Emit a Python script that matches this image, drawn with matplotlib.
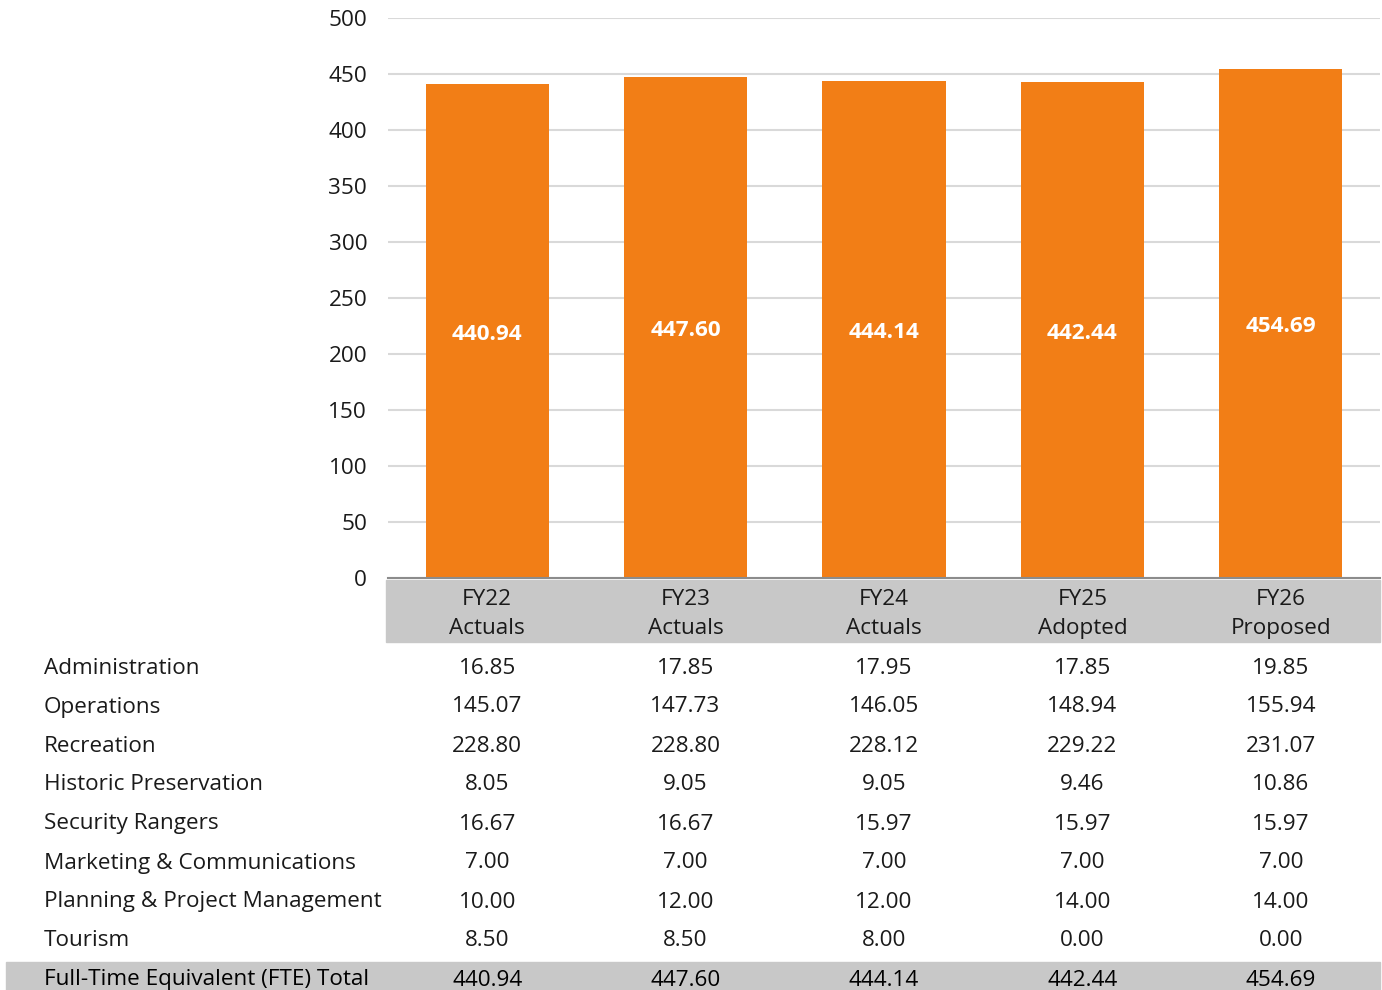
import matplotlib
matplotlib.use("Agg")
import matplotlib.pyplot as plt
import matplotlib.transforms as mtransforms
from matplotlib.patches import Rectangle

plt.rcParams["font.family"] = ["Open Sans", "DejaVu Sans"]

# data
years = ["FY22\nActuals", "FY23\nActuals", "FY24\nActuals", "FY25\nAdopted", "FY26\nProposed"]
totals = [440.94, 447.60, 444.14, 442.44, 454.69]
divisions = [
    "Administration",
    "Operations",
    "Recreation",
    "Historic Preservation",
    "Security Rangers",
    "Marketing & Communications",
    "Planning & Project Management",
    "Tourism",
]
administration = [16.85, 17.85, 17.95, 17.85, 19.85]
operations = [145.07, 147.73, 146.05, 148.94, 155.94]
recreation = [228.80, 228.80, 228.12, 229.22, 231.07]
historic = [8.05, 9.05, 9.05, 9.46, 10.86]
rangers = [16.67, 16.67, 15.97, 15.97, 15.97]
marketing = [7.00, 7.00, 7.00, 7.00, 7.00]
planning = [10.00, 12.00, 12.00, 14.00, 14.00]
tourism = [8.50, 8.50, 8.00, 0.00, 0.00]
rows = [administration, operations, recreation, historic, rangers, marketing, planning, tourism]
total_label = "Full-Time Equivalent (FTE) Total"

W, H = 1382, 990
ORANGE = "#f27e16"
GRID = "#d9d9d9"
BAND = "#c8c8c8"
TXT = "#1a1a1a"
FS = 16.2

fig = plt.figure(figsize=(W / 100, H / 100), dpi=100)


def fy(py):
    return 1 - py / H


ax = fig.add_axes([388 / W, fy(578), (1380 - 388) / W, (578 - 18) / H])
x = list(range(len(totals)))
bars = ax.bar(x, totals, width=0.62, color=ORANGE, zorder=2)
ax.set_xlim(-0.5, len(totals) - 0.5)
ax.set_ylim(0, 500)
ax.set_yticks(range(0, 501, 50))
ax.yaxis.grid(True, color=GRID, linewidth=1.5, zorder=0)
ax.set_axisbelow(True)
for s in ["top", "right", "left"]:
    ax.spines[s].set_visible(False)
ax.spines["bottom"].set_color("#8c8c8c")
ax.spines["bottom"].set_linewidth(1.5)
ax.spines["bottom"].set_zorder(3)
ax.tick_params(axis="y", length=0, pad=15, labelsize=FS, labelcolor=TXT)
ax.tick_params(axis="x", length=0, labelbottom=False)
for lbl in ax.get_yticklabels():
    lbl.set_horizontalalignment("right")
    lbl.set_verticalalignment("center_baseline")

for b, v in zip(bars, totals):
    ax.text(b.get_x() + b.get_width() / 2, v / 2 - 3, f"{v:.2f}", ha="center", va="center",
            color="white", fontsize=FS, fontweight="bold", zorder=4)

# table below the chart
trans = mtransforms.blended_transform_factory(ax.transData, fig.transFigure)

fig.patches.append(Rectangle((386 / W, fy(642)), (1380 - 386) / W, (642 - 580) / H,
                             transform=fig.transFigure, color=BAND, zorder=0))
for i, yl in enumerate(years):
    fig.text(i, fy(614), yl, transform=trans, ha="center", va="center",
             fontsize=FS, color=TXT, linespacing=1.55)

row_y0, row_step = 668, 39
for r, (name, vals) in enumerate(zip(divisions, rows)):
    yy = fy(row_y0 + r * row_step)
    fig.text(44 / W, yy, name, ha="left", va="center", fontsize=FS, color=TXT)
    for i, v in enumerate(vals):
        fig.text(i, yy, f"{v:.2f}", transform=trans, ha="center", va="center",
                 fontsize=FS, color=TXT)

ty = row_y0 + len(divisions) * row_step
fig.patches.append(Rectangle((6 / W, 0), (1380 - 6) / W, fy(962),
                             transform=fig.transFigure, color=BAND, zorder=0))
fig.text(44 / W, fy(ty), total_label, ha="left", va="center", fontsize=FS,
         color="black", fontweight="medium")
for i, v in enumerate(totals):
    fig.text(i, fy(ty), f"{v:.2f}", transform=trans, ha="center", va="center",
             fontsize=FS, color="black", fontweight="medium")

fig.savefig("out.png", dpi=100)
